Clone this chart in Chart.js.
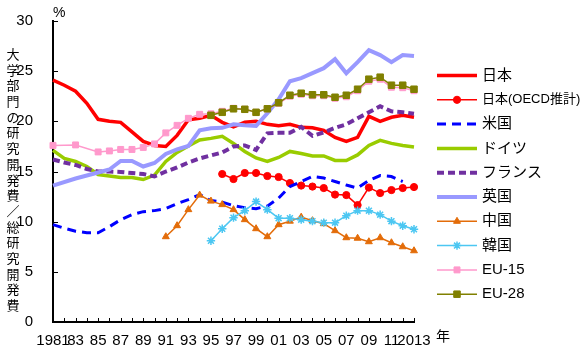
<!DOCTYPE html>
<html lang="ja">
<head>
<meta charset="utf-8">
<title>大学部門の研究開発費／総研究開発費</title>
<script src="https://cdn.jsdelivr.net/npm/chart.js@4.4.0/dist/chart.umd.min.js"></script>
<style>
  html, body { margin: 0; padding: 0; background: #fff; }
  #wrap { width: 581px; height: 350px; }
</style>
</head>
<body>
<div id="wrap"><canvas id="rdChart" width="581" height="350"></canvas></div>
<script>
// 年（横軸）
const years = [1981, 1982, 1983, 1984, 1985, 1986, 1987, 1988, 1989, 1990,
  1991, 1992, 1993, 1994, 1995, 1996, 1997, 1998, 1999, 2000,
  2001, 2002, 2003, 2004, 2005, 2006, 2007, 2008, 2009, 2010,
  2011, 2012, 2013];
const yearTicks = ['1981', '', '83', '', '85', '', '87', '', '89', '', '91', '', '93', '', '95', '',
  '97', '', '99', '', '01', '', '03', '', '05', '', '07', '', '09', '', '11', '', '2013'];
const pctTicks = [0, 5, 10, 15, 20, 25, 30];

// 大学部門の研究開発費／総研究開発費 (%)
const japan = [24.1, 23.6, 23.0, 21.8, 20.2, 20.0, 19.9, 18.95, 18.0, 17.6,
  17.5, 18.6, 20.15, 20.3, 20.6, 19.9, 19.45, 19.9, 20.0, 19.7,
  19.55, 19.7, 19.4, 19.35, 19.1, 18.4, 18.0, 18.4, 20.5, 20.0,
  20.4, 20.6, 20.4];
const japanOecd = [null, null, null, null, null, null, null, null, null, null,
  null, null, null, null, null, 14.75, 14.25, 14.85, 14.85, 14.55,
  14.45, 13.85, 13.6, 13.5, 13.35, 12.7, 12.65, 11.65, 13.4, 12.85,
  13.15, 13.35, 13.45];
const usa = [9.7, 9.35, 9.05, 8.9, 8.9, 9.5, 10.2, 10.7, 11.0, 11.1,
  11.3, 11.8, 12.2, 12.7, 12.1, 11.95, 11.6, 11.4, 11.3, 11.55,
  12.35, 13.5, 14.0, 14.5, 14.35, 14.0, 13.65, 13.35, 14.1, 14.6,
  14.5, 14.0, null];
const germany = [17.1, 16.3, 16.0, 15.5, 14.7, 14.55, 14.4, 14.4, 14.2, 14.65,
  16.0, 16.9, 17.55, 18.15, 18.3, 18.5, 17.8, 17.0, 16.35, 16.0,
  16.4, 17.0, 16.8, 16.55, 16.55, 16.1, 16.1, 16.65, 17.6, 18.1,
  17.8, 17.6, 17.45];
const france = [16.2, 15.9, 15.65, 15.25, 15.0, 15.0, 14.95, 14.85, 14.75, 14.5,
  15.0, 15.4, 15.9, 16.3, 16.6, 16.9, 17.5, 17.6, 17.15, 18.8,
  18.85, 18.85, 19.45, 18.55, 18.9, 19.35, 19.7, 20.3, 20.9, 21.5,
  21.0, 20.9, 20.75];
const uk = [13.6, null, 14.3, null, 14.9, 15.2, 16.05, 16.05, 15.5, 15.85,
  16.75, 17.2, 17.55, 19.1, 19.3, 19.35, 19.7, 19.6, 19.55, 20.8,
  22.2, 24.0, 24.3, 24.8, 25.3, 26.2, 24.8, 25.9, 27.1, 26.6,
  25.9, 26.6, 26.5];
const china = [null, null, null, null, null, null, null, null, null, null,
  8.5, 9.6, 11.2, 12.65, 12.05, 11.7, 11.2, 10.2, 9.3, 8.5,
  9.7, 10.05, 10.45, 10.1, 9.8, 9.1, 8.4, 8.35, 8.0, 8.4,
  7.9, 7.5, 7.1];
const korea = [null, null, null, null, null, null, null, null, null, null,
  null, null, null, null, 8.1, 9.3, 10.4, 11.1, 12.0, 11.2,
  10.35, 10.35, 10.2, 10.05, 9.9, 9.9, 10.6, 11.1, 11.1, 10.7,
  10.05, 9.6, 9.25];
const eu15 = [17.6, null, 17.65, null, 16.95, 17.05, 17.2, 17.2, 17.4, 17.75,
  18.85, 19.6, 20.3, 20.7, 20.75, 21.0, 21.3, 21.2, 20.9, 21.25,
  21.8, 22.5, 22.7, 22.55, 22.55, 22.3, 22.45, 23.05, 24.0, 24.2,
  23.4, 23.35, 23.05];
const eu28 = [null, null, null, null, null, null, null, null, null, null,
  null, null, null, null, 20.6, 20.9, 21.25, 21.2, 20.9, 21.25,
  21.85, 22.6, 22.8, 22.65, 22.65, 22.4, 22.6, 23.2, 24.2, 24.4,
  23.6, 23.6, 23.2];

const FONT = "'Liberation Sans', 'Noto Sans CJK JP', sans-serif";
const JP_FONT = "'Noto Sans CJK JP', sans-serif";

function series(label, data, color, width, extra) {
  return Object.assign({
    label: label,
    data: data,
    borderColor: color,
    backgroundColor: color,
    borderWidth: width,
    pointRadius: 0,
    pointBorderWidth: 1,
    pointBorderColor: color,
    pointBackgroundColor: color,
    tension: 0,
    spanGaps: true
  }, extra || {});
}

const datasets = [
  series('日本', japan, '#FF0000', 3.5),
  series('日本(OECD推計)', japanOecd, '#FF0000', 1.5, { pointStyle: 'circle', pointRadius: 3.6 }),
  series('米国', usa, '#0000FF', 3, { borderDash: [9, 6] }),
  series('ドイツ', germany, '#99CC00', 3.5),
  series('フランス', france, '#7030A0', 4, { borderDash: [7, 4] }),
  series('英国', uk, '#9999FF', 4),
  series('中国', china, '#E36C09', 1.5, { pointStyle: 'triangle', pointRadius: 4 }),
  series('韓国', korea, '#4CC7F2', 1.5, { pointStyle: 'star', pointRadius: 4.2, pointBorderWidth: 1.5 }),
  series('EU-15', eu15, '#FF99CC', 1.5, { pointStyle: 'rect', pointRadius: 4.2 }),
  series('EU-28', eu28, '#808000', 1.5, { pointStyle: 'rect', pointRadius: 4.6 })
];
// later series sit on top of earlier ones
datasets.forEach((ds, i) => { ds.order = datasets.length - i; });

// axis labels, inward tick marks and the legend on the right
const decor = {
  id: 'decor',
  afterDraw(chart) {
    const { ctx, scales: { x, y } } = chart;
    ctx.save();

    // tick marks inside the plot
    ctx.strokeStyle = '#000';
    ctx.lineWidth = 1;
    ctx.beginPath();
    years.forEach((yr, i) => {
      const px = Math.round(x.getPixelForValue(i)) + 0.5;
      ctx.moveTo(px, y.bottom);
      ctx.lineTo(px, y.bottom - 4);
    });
    pctTicks.forEach(v => {
      const py = Math.round(y.getPixelForValue(v)) + 0.5;
      ctx.moveTo(x.left, py);
      ctx.lineTo(x.left + 5, py);
    });
    ctx.stroke();

    ctx.fillStyle = '#000';
    ctx.textBaseline = 'middle';

    // unit and year marks
    ctx.font = '14px ' + FONT;
    ctx.textAlign = 'left';
    ctx.fillText('%', x.left, 13);
    ctx.font = '14px ' + JP_FONT;
    ctx.fillText('年', 436, 336);

    // vertical axis title, one character per row
    const title = '大学部門の研究開発費／総研究開発費';
    ctx.font = '13px ' + JP_FONT;
    ctx.textAlign = 'center';
    Array.from(title).forEach((ch, i) => {
      ctx.fillText(ch, 13, 54 + i * 15.7);
    });

    // legend
    chart.data.datasets.forEach((ds, i) => {
      const ly = 75.5 + i * 24.3;
      ctx.save();
      ctx.strokeStyle = ds.borderColor;
      ctx.lineWidth = ds.borderWidth;
      ctx.setLineDash(ds.borderDash || []);
      ctx.beginPath();
      ctx.moveTo(437, ly);
      ctx.lineTo(477, ly);
      ctx.stroke();
      ctx.restore();
      if (ds.pointRadius > 0) {
        ctx.save();
        ctx.fillStyle = ds.pointBackgroundColor;
        ctx.strokeStyle = ds.pointBorderColor;
        ctx.lineWidth = ds.pointBorderWidth;
        Chart.helpers.drawPoint(ctx, {
          pointStyle: ds.pointStyle,
          radius: ds.pointRadius,
          borderWidth: ds.pointBorderWidth,
          rotation: 0
        }, 457, ly);
        ctx.restore();
      }
      ctx.fillStyle = '#000';
      ctx.textAlign = 'left';
      ctx.font = (ds.label === '日本(OECD推計)' ? '13px ' : '15px ') + FONT;
      ctx.fillText(ds.label, 482, ly);
    });

    ctx.restore();
  }
};

new Chart(document.getElementById('rdChart'), {
  type: 'line',
  data: { labels: years, datasets: datasets },
  options: {
    responsive: false,
    animation: false,
    events: [],
    layout: { padding: { left: 0, top: 18, right: 167, bottom: 0 } },
    plugins: {
      legend: { display: false },
      tooltip: { enabled: false }
    },
    scales: {
      x: {
        type: 'category',
        offset: false,
        grid: { display: false },
        border: { display: true, color: '#000', width: 2 },
        ticks: {
          autoSkip: false,
          maxRotation: 0,
          minRotation: 0,
          padding: 2,
          color: '#000',
          font: { size: 15, family: FONT },
          callback: (val, i) => yearTicks[i]
        },
        afterFit: s => { s.height = 28; }
      },
      y: {
        min: 0,
        max: 30,
        grid: { display: false },
        border: { display: true, color: '#000', width: 2 },
        ticks: {
          stepSize: 5,
          padding: 12,
          color: '#000',
          font: { size: 15, family: FONT }
        },
        afterFit: s => { s.width = 53; }
      }
    }
  },
  plugins: [decor]
});
</script>
</body>
</html>
